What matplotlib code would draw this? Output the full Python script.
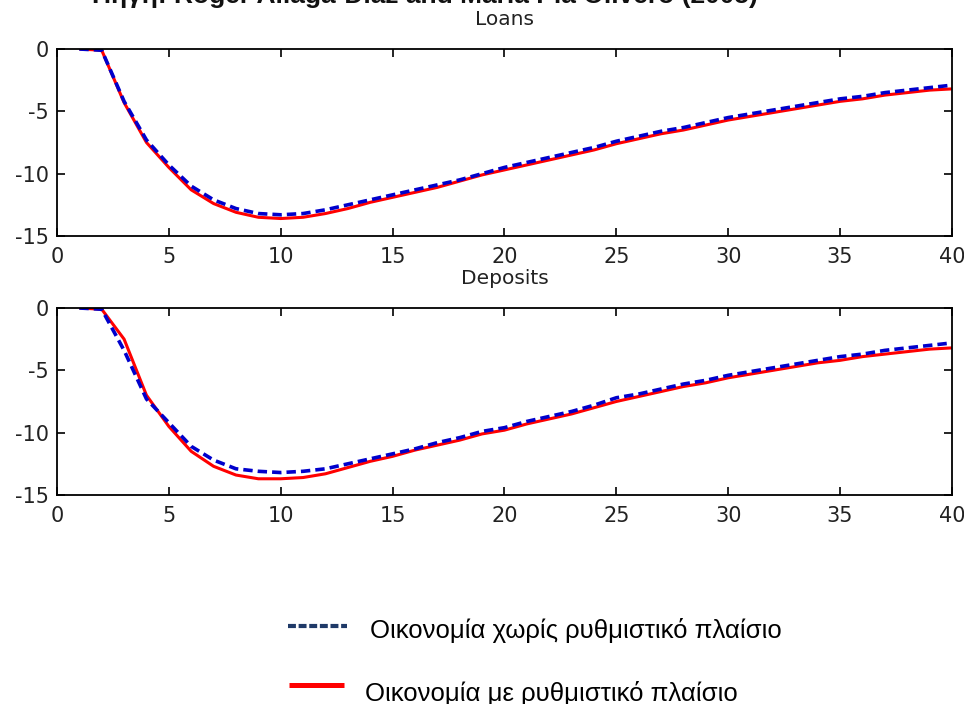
import matplotlib
matplotlib.use("Agg")
import matplotlib.pyplot as plt
from matplotlib.lines import Line2D

plt.rcParams['font.family'] = ['Liberation Sans', 'DejaVu Sans']
plt.rcParams['axes.unicode_minus'] = False

periods = list(range(1, 41))

loans_no_reg = [0.0, -0.1, -4.2, -7.3, -9.3, -11.0, -12.1, -12.8, -13.2, -13.3,
                -13.2, -12.9, -12.5, -12.1, -11.7, -11.3, -10.9, -10.5, -10.0, -9.5,
                -9.1, -8.7, -8.3, -7.9, -7.4, -7.0, -6.6, -6.3, -5.9, -5.5,
                -5.2, -4.9, -4.6, -4.3, -4.0, -3.8, -3.5, -3.3, -3.1, -2.9]
loans_reg = [0.0, -0.1, -4.3, -7.5, -9.5, -11.3, -12.4, -13.1, -13.5, -13.6,
             -13.5, -13.2, -12.8, -12.3, -11.9, -11.5, -11.1, -10.6, -10.1, -9.7,
             -9.3, -8.9, -8.5, -8.1, -7.6, -7.2, -6.8, -6.5, -6.1, -5.7,
             -5.4, -5.1, -4.8, -4.5, -4.2, -4.0, -3.7, -3.5, -3.3, -3.2]

deposits_no_reg = [0.0, -0.1, -3.4, -7.3, -9.2, -11.1, -12.2, -12.9, -13.1, -13.2,
                   -13.1, -12.9, -12.5, -12.1, -11.7, -11.3, -10.8, -10.4, -9.9, -9.6,
                   -9.1, -8.7, -8.3, -7.8, -7.2, -6.9, -6.5, -6.1, -5.8, -5.4,
                   -5.1, -4.8, -4.5, -4.2, -3.9, -3.7, -3.4, -3.2, -3.0, -2.8]
deposits_reg = [0.0, -0.1, -2.5, -7.0, -9.5, -11.5, -12.7, -13.4, -13.7, -13.7,
                -13.6, -13.3, -12.8, -12.3, -11.9, -11.4, -11.0, -10.6, -10.1, -9.8,
                -9.3, -8.9, -8.5, -8.0, -7.5, -7.1, -6.7, -6.3, -6.0, -5.6,
                -5.3, -5.0, -4.7, -4.4, -4.2, -3.9, -3.7, -3.5, -3.3, -3.2]

panels = [("Loans", loans_no_reg, loans_reg), ("Deposits", deposits_no_reg, deposits_reg)]
xticks = [0, 5, 10, 15, 20, 25, 30, 35, 40]
yticks = [0, -5, -10, -15]

label_no_reg = "Οικονομία χωρίς ρυθμιστικό πλαίσιο"
label_reg = "Οικονομία με ρυθμιστικό πλαίσιο"
source = "Πηγή: Roger Aliaga-Diaz and Maria Pia Olivero (2005)"

fig = plt.figure(figsize=(9.64, 7.04), dpi=100)

boxes = [[0.0591, 0.6648, 0.9284, 0.2656], [0.0591, 0.2969, 0.9284, 0.2656]]
for box, (name, no_reg, reg) in zip(boxes, panels):
    ax = fig.add_axes(box)
    ax.plot(periods, reg, color="#ff0000", lw=2.2, solid_capstyle="butt")
    ax.plot(periods, no_reg, color="#0000cc", lw=2.6, linestyle=(0, (2.6, 1.4)))
    ax.set_xlim(0, 40)
    ax.set_ylim(-15, 0)
    ax.set_xticks(xticks)
    ax.set_yticks(yticks)
    ax.tick_params(direction="in", top=True, right=True, length=6, width=1.2)
    ax.tick_params(axis="x", labelsize=15, pad=8)
    ax.tick_params(axis="y", labelsize=15, pad=6)
    for lab in ax.get_xticklabels() + ax.get_yticklabels():
        lab.set_family("DejaVu Sans")
        lab.set_color("#222222")
    for s in ax.spines.values():
        s.set_linewidth(1.3)
    ax.set_title(name, fontsize=14.5, pad=17, family="DejaVu Sans", color="#222222")

# source line, clipped at the top edge like the reference
fig.text(0.441, 0.9955, source, ha="center", va="baseline", fontsize=19,
         fontweight="bold", color="#111111")

# legend drawn by hand below the panels
fig.add_artist(Line2D([0.2988, 0.360], [0.1115, 0.1115], color="#1f3a68", lw=3,
                      linestyle=(0, (1.9, 0.65)), transform=fig.transFigure))
fig.text(0.384, 0.0938, label_no_reg, ha="left", va="baseline", fontsize=18.5)
fig.add_artist(Line2D([0.2998, 0.3568], [0.027, 0.027], color="#ff0000", lw=3.6,
                      solid_capstyle="butt", transform=fig.transFigure))
fig.text(0.379, 0.0043, label_reg, ha="left", va="baseline", fontsize=18.5)

fig.savefig("out.png", dpi=100)
